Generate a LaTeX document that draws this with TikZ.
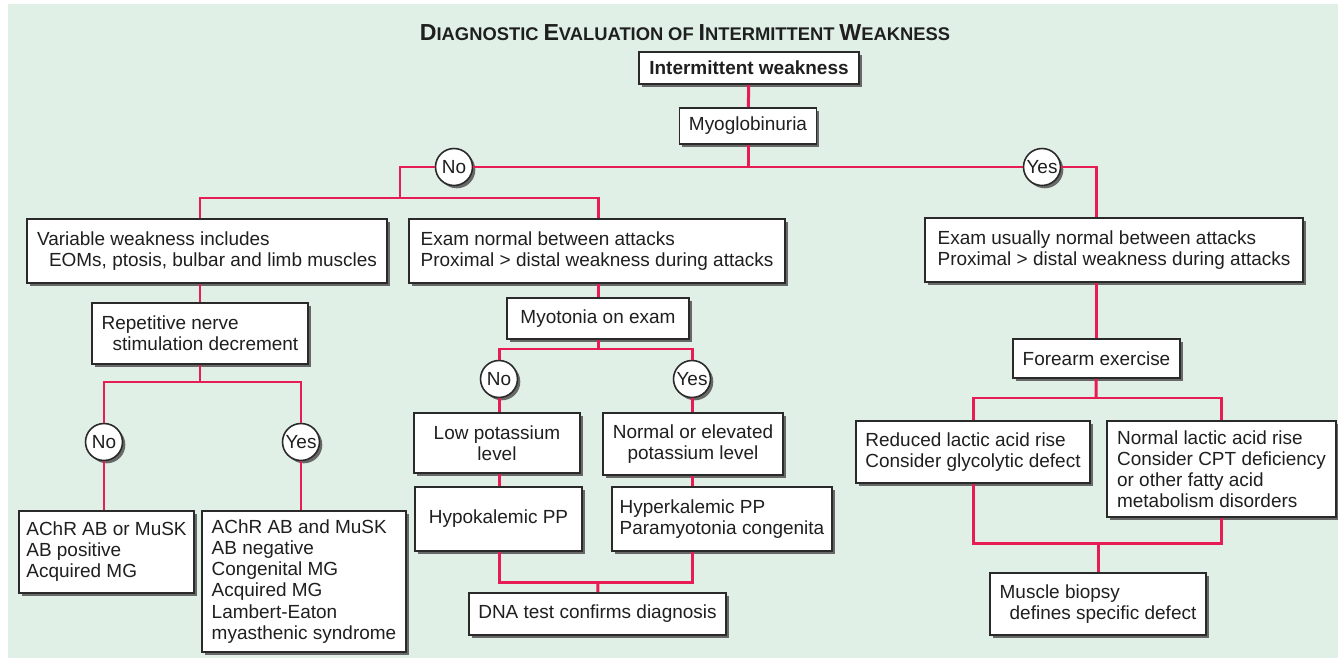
\documentclass[tikz,border=0pt]{standalone}
\usepackage{fontspec}
\setmainfont{Liberation Sans}
\usetikzlibrary{shadows}
\definecolor{ChartBg}{HTML}{E0F0E6}
\definecolor{ChartLink}{HTML}{E81C54}
\definecolor{ChartEdge}{HTML}{2A2A2A}
\definecolor{ChartShadow}{HTML}{686868}
\newcommand{\capword}[2]{{\fontsize{13.2}{15}\selectfont #1}{\fontsize{10.45}{15}\selectfont #2}}

\begin{document}
\begin{tikzpicture}[x=0.02cm, y=-0.02cm,
        box/.style={draw=ChartEdge, fill=white, line width=0.9pt, inner xsep=4pt, inner ysep=0pt, align=left, text=black!88, font=\fontsize{10.8}{12}\selectfont, drop shadow={shadow xshift=1.6pt, shadow yshift=-1.6pt, fill=ChartShadow, opacity=1}},
        ans/.style={circle, draw=ChartEdge, fill=white, line width=0.9pt, minimum size=0.74cm, inner sep=0pt, text=black!88, font=\fontsize{10.8}{12}\selectfont, drop shadow={shadow xshift=1.6pt, shadow yshift=-1.6pt, fill=ChartShadow, opacity=1}},
        link/.style={draw=ChartLink, line width=1.7pt},
        lbl/.style={font=\bfseries, text=black!88}
    ]
        \useasboundingbox (0,0) rectangle (1338,659);
        \fill[ChartBg] (8,4) rectangle (1338,658);

        % Title
        \node[lbl] (title) at (685,33) {\capword{D}{IAGNOSTIC} \capword{E}{VALUATION} \capword{}{OF} \capword{I}{NTERMITTENT} \capword{W}{EAKNESS}};

        % Top
        \node[box, align=center, font=\fontsize{10.8}{12}\selectfont\bfseries, minimum width=4.4cm, minimum height=0.64cm] (top) at (749,68) {Intermittent weakness};
        \node[box, align=center, minimum width=2.74cm, minimum height=0.72cm] (myo) at (748,126) {Myoglobinuria};
        \node[ans] (no1) at (454,167) {No};
        \node[ans] (yes1) at (1042,167) {Yes};

        % Second row
        \node[box, minimum width=7.2cm, minimum height=1.28cm] (varw) at (207,251) {Variable weakness includes\\\hspace*{0.24cm}EOMs, ptosis, bulbar and limb muscles};
        \node[box, minimum width=7.52cm, minimum height=1.28cm] (examn) at (597,251) {Exam normal between attacks\\Proximal > distal weakness during attacks};
        \node[box, minimum width=7.56cm, minimum height=1.28cm] (examu) at (1114,250) {Exam usually normal between attacks\\Proximal > distal weakness during attacks};

        % Left branch
        \node[box, minimum width=4.32cm, minimum height=1.22cm] (rns) at (200,333.5) {Repetitive nerve\\\hspace*{0.22cm}stimulation decrement};
        \node[ans] (no2) at (104,442) {No};
        \node[ans] (yes2) at (301,442) {Yes};
        \node[box, minimum width=3.5cm, minimum height=1.64cm] (achrpos) at (106.5,552) {AChR AB or MuSK\\AB positive\\Acquired MG};
        \node[box, minimum width=4.08cm, minimum height=2.82cm] (achrneg) at (304,581.5) {AChR AB and MuSK\\AB negative\\Congenital MG\\Acquired MG\\Lambert-Eaton\\myasthenic syndrome};

        % Middle branch
        \node[box, align=center, minimum width=3.64cm, minimum height=0.82cm] (myot) at (598,318.5) {Myotonia on exam};
        \node[ans] (no3) at (499,379) {No};
        \node[ans] (yes3) at (692,379) {Yes};
        \node[box, align=center, minimum width=3.32cm, minimum height=1.2cm] (lowk) at (497,443) {Low potassium\\level};
        \node[box, align=center, minimum width=3.6cm, minimum height=1.24cm] (normk) at (693,444) {Normal or elevated\\potassium level};
        \node[box, align=center, minimum width=3.34cm, minimum height=1.28cm] (hypo) at (498.5,519) {Hypokalemic PP};
        \node[box, minimum width=4.4cm, minimum height=1.28cm] (hyper) at (722,519) {Hyperkalemic PP\\Paramyotonia congenita};
        \node[box, align=center, minimum width=5.14cm, minimum height=0.84cm] (dna) at (597.5,614) {DNA test confirms diagnosis};

        % Right branch
        \node[box, minimum width=3.34cm, minimum height=0.78cm] (forearm) at (1096.5,358.5) {Forearm exercise};
        \node[box, minimum width=4.68cm, minimum height=1.24cm] (redlac) at (973,452) {Reduced lactic acid rise\\Consider glycolytic defect};
        \node[box, minimum width=4.58cm, minimum height=1.92cm] (normlac) at (1221.5,469) {Normal lactic acid rise\\Consider CPT deficiency\\or other fatty acid\\metabolism disorders};
        \node[box, minimum width=4.32cm, minimum height=1.24cm] (biopsy) at (1098,604) {Muscle biopsy\\\hspace*{0.2cm}defines specific defect};

        % Junctions
        \coordinate (lturn) at (400,167);
        \coordinate (lsplit) at (400,198);
        \coordinate (lbr1) at (200,198);
        \coordinate (lbr2) at (598,198);
        \coordinate (rturn) at (1096,167);
        \coordinate (nb) at (200,382);
        \coordinate (mb) at (598,349);
        \coordinate (db) at (598,582);
        \coordinate (fb) at (1096,398);
        \coordinate (bb) at (1098,543);

        % Connections
        \draw[link] (top) -- (myo);
        \draw[link] (myo) -- (myo |- no1);
        \draw[link] (no1) -- (yes1);
        \draw[link] (no1) -- (lturn) -- (lsplit);
        \draw[link] (yes1) -- (rturn) -- (examu.north -| rturn);
        \draw[link] (varw.north -| lbr1) -- (lbr1) -- (lbr2) -- (examn.north -| lbr2);
        \draw[link] (varw.south -| rns) -- (rns);
        \draw[link] (rns) -- (nb);
        \draw[link] (no2) |- (nb) -| (yes2);
        \draw[link] (no2) -- (no2 |- achrpos.north);
        \draw[link] (yes2) -- (yes2 |- achrneg.north);
        \draw[link] (examn.south -| myot) -- (myot);
        \draw[link] (myot) -- (mb);
        \draw[link] (no3) |- (mb) -| (yes3);
        \draw[link] (no3) -- (no3 |- lowk.north);
        \draw[link] (yes3) -- (yes3 |- normk.north);
        \draw[link] (lowk.south -| no3) -- (hypo.north -| no3);
        \draw[link] (normk.south -| yes3) -- (hyper.north -| yes3);
        \draw[link] (hypo.south -| no3) |- (db) -| (hyper.south -| yes3);
        \draw[link] (db) -- (dna);
        \draw[link] (examu.south -| rturn) -- (forearm.north -| rturn);
        \draw[link] (forearm) -- (fb);
        \draw[link] (redlac) |- (fb) -| (normlac);
        \draw[link] (redlac) |- (bb) -| (normlac);
        \draw[link] (bb) -- (biopsy);
    \end{tikzpicture}
\end{document}
